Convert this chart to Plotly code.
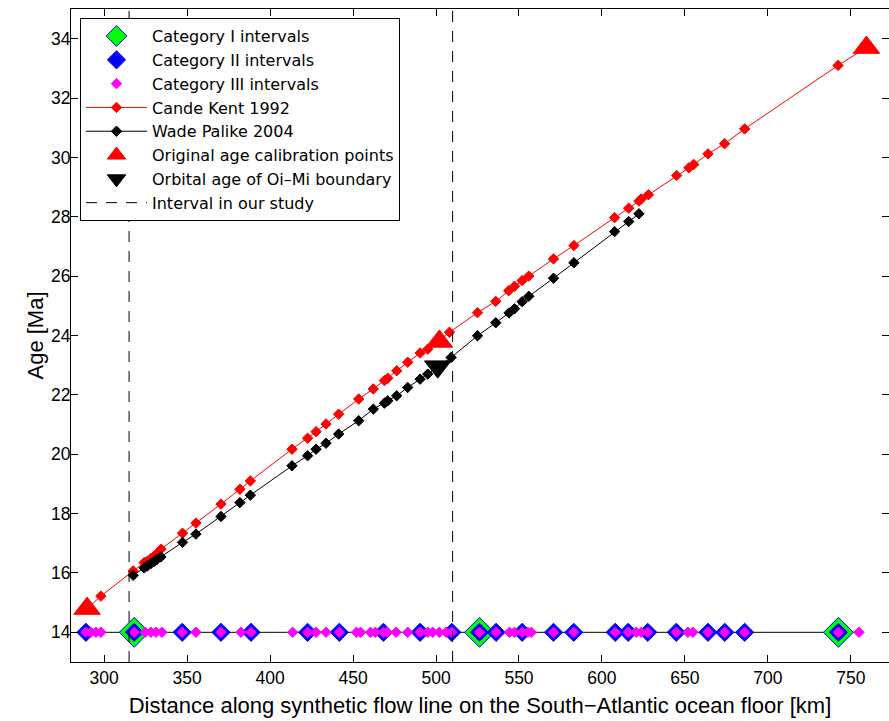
import plotly.graph_objects as go

# ---------------- data ----------------
cat1_x = [318.1, 526.2, 742.5]
cat2_x = [289, 318.1, 347, 370.4, 388.5, 422.6, 441.7, 468.3, 490.4, 509.5, 526.2,
          536.2, 551.9, 570.8, 583, 608, 615.8, 627.6, 644.8, 663.9, 674, 686, 742.5]
cat3_x = [289, 292, 295, 298, 318.1, 324.7, 328.2, 331.2, 334.8, 347, 355.3, 370.4,
          382.4, 388.5, 413.6, 422.6, 427.7, 433.7, 441.7, 452, 454.5, 460.5, 463.5,
          468.3, 470.5, 475.9, 482.9, 490.4, 495, 498, 502, 506, 509.5, 526.2, 536.2,
          544.3, 547.3, 551.9, 555.3, 557.4, 570.8, 583, 608, 615.8, 620.7, 623.7,
          627.6, 644.8, 651.8, 654.8, 663.9, 674, 686, 742.5, 754.9]
interval_age = 14  # all intervals plotted on this age level

ck_x = [289.7, 298.0, 317.5, 324.1, 326.1, 328.2, 330.2, 331.5, 334.2, 347.2, 355.3,
        370.4, 381.8, 388.1, 413.2, 422.6, 427.7, 433.7, 441.3, 453.4, 462.2, 468.9,
        470.9, 476.3, 482.9, 490.4, 495.0, 508.1, 525.0, 536.0, 543.8, 547.3, 551.9,
        555.9, 570.8, 583.1, 607.6, 616.1, 622.3, 623.7, 628.0, 645.0, 652.4, 655.3,
        663.9, 673.9, 686.0, 742.3, 759.4]
ck_age = [14.8, 15.22, 16.07, 16.35, 16.40, 16.49, 16.57, 16.63, 16.80, 17.34, 17.68,
          18.32, 18.82, 19.10, 20.17, 20.54, 20.76, 21.02, 21.35, 21.86, 22.20, 22.48,
          22.56, 22.81, 23.10, 23.41, 23.54, 24.11, 24.77, 25.15, 25.51, 25.66, 25.85,
          26.00, 26.58, 27.03, 27.97, 28.29, 28.53, 28.60, 28.74, 29.39, 29.65, 29.76,
          30.12, 30.46, 30.96, 33.10, 33.7]

wp_x = [317.5, 324.1, 326.1, 328.2, 330.2, 331.5, 334.2, 347.2, 355.3, 370.4, 381.8,
        388.1, 413.2, 422.6, 427.7, 433.7, 441.3, 453.4, 462.2, 468.9, 470.9, 476.3,
        482.9, 490.4, 495.0, 509.1, 525.0, 536.0, 544.0, 547.3, 551.9, 555.9, 570.8,
        583.1, 607.6, 616.1, 622.3]
wp_age = [15.92, 16.17, 16.24, 16.32, 16.39, 16.44, 16.54, 17.03, 17.31, 17.90, 18.37,
          18.62, 19.61, 19.95, 20.17, 20.37, 20.68, 21.13, 21.52, 21.72, 21.80, 21.97,
          22.25, 22.53, 22.70, 23.26, 23.99, 24.43, 24.76, 24.90, 25.14, 25.32, 25.93,
          26.45, 27.50, 27.84, 28.10]

calib_x = [289.7, 502.0, 759.4]
calib_age = [14.8, 23.8, 33.7]

oimi_x = [501.0]
oimi_age = [22.95]

study_interval = [315, 510]

x_range = [280, 773]
y_range = [13, 35]
x_ticks = [300, 350, 400, 450, 500, 550, 600, 650, 700, 750]
y_ticks = [14, 16, 18, 20, 22, 24, 26, 28, 30, 32, 34]

FONT = "Liberation Sans, Arial, Helvetica, sans-serif"
LEGEND_FONT = "DejaVu Sans, Liberation Sans, sans-serif"

fig = go.Figure()

# horizontal line connecting intervals
fig.add_trace(go.Scatter(
    x=cat3_x, y=[interval_age] * len(cat3_x), mode="lines",
    line=dict(color="black", width=1), showlegend=False, hoverinfo="skip"))

fig.add_trace(go.Scatter(
    x=cat1_x, y=[interval_age] * len(cat1_x), mode="markers",
    name="Category I intervals",
    marker=dict(symbol="diamond", size=23, color="#00FF00",
                line=dict(color="#0000FF", width=1))))

fig.add_trace(go.Scatter(
    x=cat2_x, y=[interval_age] * len(cat2_x), mode="markers",
    name="Category II intervals",
    marker=dict(symbol="diamond", size=14, color="#0000FF",
                line=dict(color="#0000FF", width=1))))

fig.add_trace(go.Scatter(
    x=cat3_x, y=[interval_age] * len(cat3_x), mode="markers",
    name="Category III intervals",
    marker=dict(symbol="diamond", size=8, color="#FF00FF",
                line=dict(color="#FF00FF", width=1))))

fig.add_trace(go.Scatter(
    x=ck_x, y=ck_age, mode="lines+markers", name="Cande Kent 1992",
    line=dict(color="#FF0000", width=1),
    marker=dict(symbol="diamond", size=8, color="#FF0000",
                line=dict(color="#FF0000", width=1))))

fig.add_trace(go.Scatter(
    x=wp_x, y=wp_age, mode="lines+markers", name="Wade Palike 2004",
    line=dict(color="black", width=1),
    marker=dict(symbol="diamond", size=8, color="black",
                line=dict(color="black", width=1))))

fig.add_trace(go.Scatter(
    x=calib_x, y=calib_age, mode="markers", name="Original age calibration points",
    marker=dict(symbol="triangle-up", size=23, color="#FF0000",
                line=dict(color="#FF0000", width=1))))

fig.add_trace(go.Scatter(
    x=oimi_x, y=oimi_age, mode="markers", name="Orbital age of Oi\u2013Mi boundary",
    marker=dict(symbol="triangle-down", size=23, color="black",
                line=dict(color="black", width=1))))

dash_x, dash_y = [], []
for xv in study_interval:
    dash_x += [xv, xv, None]
    dash_y += [y_range[0], y_range[1], None]
fig.add_trace(go.Scatter(
    x=dash_x, y=dash_y, mode="lines", name="Interval in our study",
    line=dict(color="black", width=1, dash="11px,9px")))

axis_common = dict(
    showgrid=False, zeroline=False, showline=True, linecolor="black", linewidth=1,
    ticks="inside", ticklen=7, tickcolor="black", tickwidth=1, mirror="ticks",
    tickfont=dict(family=FONT, size=17.5, color="black"),
)

fig.update_layout(
    width=889, height=721,
    margin=dict(l=71, r=0, t=9, b=59),
    paper_bgcolor="white", plot_bgcolor="white",
    font=dict(family=FONT, color="black"),
    xaxis=dict(range=x_range, tickvals=x_ticks, **axis_common,
               title=dict(text="Distance along synthetic flow line on the South\u2212Atlantic ocean floor [km]",
                          font=dict(family=FONT, size=22), standoff=10)),
    yaxis=dict(range=y_range, tickvals=y_ticks, **axis_common, ticklabelstandoff=-4,
               title=dict(text="Age [Ma]", font=dict(family=FONT, size=22), standoff=1)),
    legend=dict(x=0.011, y=0.986, xanchor="left", yanchor="top",
                bgcolor="white", bordercolor="black", borderwidth=1,
                font=dict(family=LEGEND_FONT, size=16, color="black"),
                itemwidth=61, tracegroupgap=0),
    showlegend=True,
)

fig.write_html("out.html")
